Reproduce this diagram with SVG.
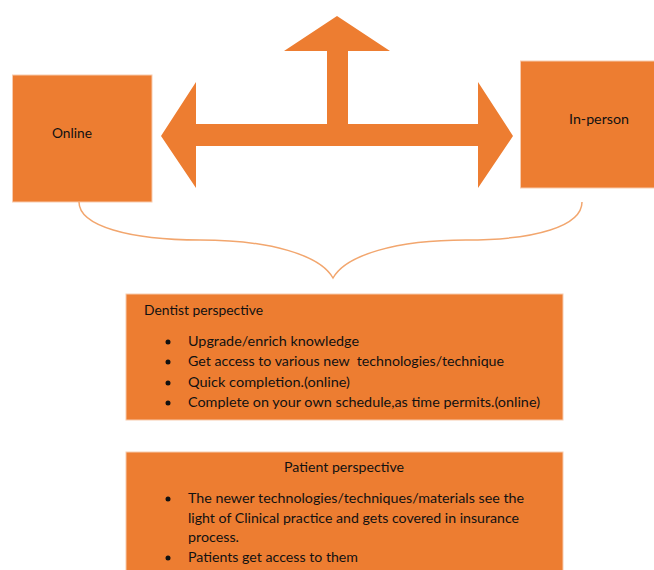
<svg xmlns="http://www.w3.org/2000/svg" width="654" height="570" viewBox="0 0 654 570">
<style>
.box{fill:#ED7D31;stroke:#F8CBAD;stroke-width:1}
.shape{fill:#ED7D31}
.t{font-family:Lato,"Open Sans","Liberation Sans",sans-serif;font-size:14px;fill:#111111;white-space:pre}
.b{fill:#111111}
.brace{fill:none;stroke:#F2A66E;stroke-width:1.5}
</style>
<rect width="654" height="570" fill="#ffffff"/>
<g id="arrow">
<polygon class="shape" points="337,16 390,51 348,51 348,124 478,124 478,82 513,136 478,188 478,146 196,146 196,188 161,136 196,82 196,124 327,124 327,51 284,51"/>
</g>
<g id="online">
<rect class="box" x="12.5" y="75" width="139.5" height="127"/>
<text class="t" x="52" y="138" textLength="40" lengthAdjust="spacingAndGlyphs">Online</text>
</g>
<g id="inperson">
<rect class="box" x="520.5" y="61" width="134" height="127"/>
<text class="t" x="569" y="124" textLength="60" lengthAdjust="spacingAndGlyphs">In-person</text>
</g>
<g id="connectors">
<path class="brace" d="M79,202 C79,226 130,240 200,240 C270,240 320,255 333,278 C346,255 396,240 466,240 C536,240 582,226 582,202"/>
</g>
<g id="dentist">
<rect class="box" x="126" y="294" width="437" height="126"/>
<text class="t" x="144" y="315" textLength="119" lengthAdjust="spacingAndGlyphs">Dentist perspective</text>
<circle class="b" cx="168" cy="342" r="2.5"/>
<circle class="b" cx="168" cy="362" r="2.5"/>
<circle class="b" cx="168" cy="383" r="2.5"/>
<circle class="b" cx="168" cy="403" r="2.5"/>
<text class="t" x="188" y="346" textLength="171" lengthAdjust="spacingAndGlyphs">Upgrade/enrich knowledge</text>
<text class="t" x="188" y="366" textLength="316" lengthAdjust="spacingAndGlyphs" xml:space="preserve">Get access to various new  technologies/technique</text>
<text class="t" x="188" y="387" textLength="162" lengthAdjust="spacingAndGlyphs">Quick completion.(online)</text>
<text class="t" x="188" y="407" textLength="352" lengthAdjust="spacingAndGlyphs">Complete on your own schedule,as time permits.(online)</text>
</g>
<g id="patient">
<rect class="box" x="126" y="452" width="437" height="130"/>
<text class="t" x="284" y="472" textLength="120" lengthAdjust="spacingAndGlyphs">Patient perspective</text>
<circle class="b" cx="168" cy="499" r="2.5"/>
<circle class="b" cx="168" cy="558" r="2.5"/>
<text class="t" x="188" y="503" textLength="336" lengthAdjust="spacingAndGlyphs">The newer technologies/techniques/materials see the</text>
<text class="t" x="188" y="523" textLength="331" lengthAdjust="spacingAndGlyphs">light of Clinical practice and gets covered in insurance</text>
<text class="t" x="188" y="542" textLength="51" lengthAdjust="spacingAndGlyphs">process.</text>
<text class="t" x="188" y="562" textLength="170" lengthAdjust="spacingAndGlyphs">Patients get access to them</text>
</g>
</svg>
